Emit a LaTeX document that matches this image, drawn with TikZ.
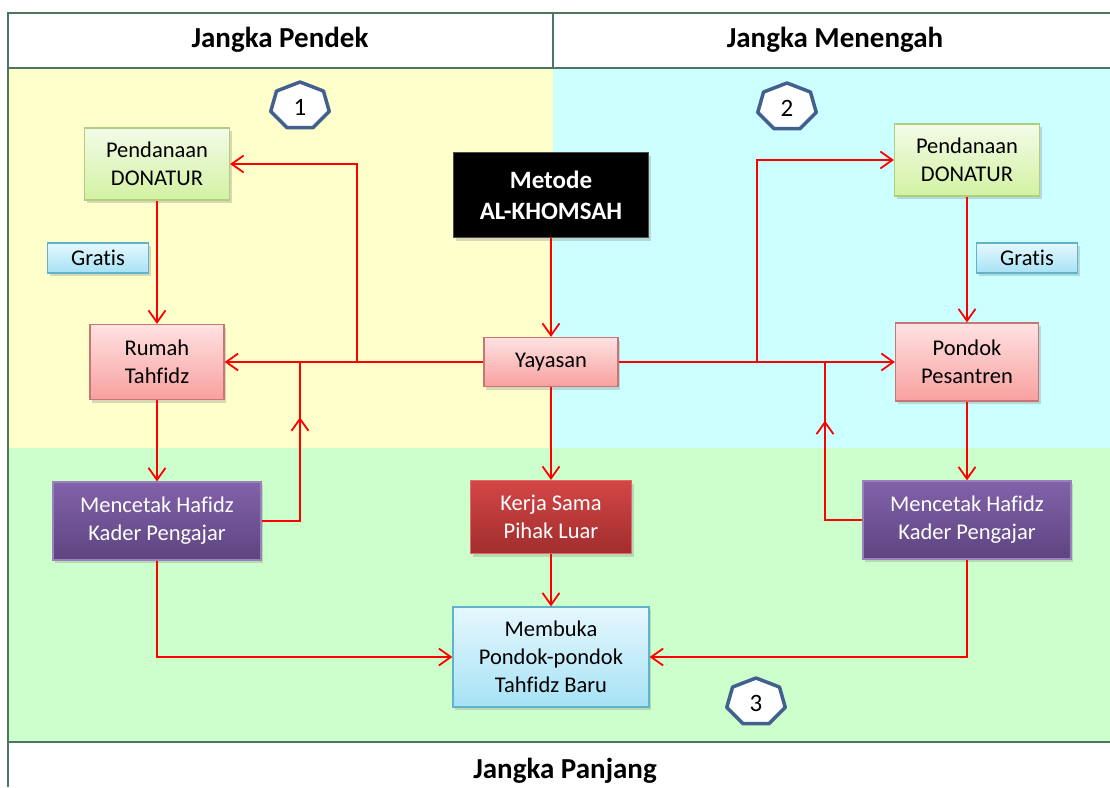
\documentclass[tikz,border=0pt]{standalone}
\usepackage{fontspec}
\setmainfont{Carlito}[Ligatures=CommonOff]
\usetikzlibrary{arrows.meta,shadows,decorations.markings}
\definecolor{shortbg}{HTML}{FFFFCC}
\definecolor{midbg}{HTML}{CCFFFF}
\definecolor{longbg}{HTML}{CCFFCC}
\definecolor{framecol}{HTML}{4E7560}
\definecolor{badgecol}{HTML}{41608E}
\definecolor{fundtop}{HTML}{F3FBE8}
\definecolor{fundbot}{HTML}{D3F2A2}
\definecolor{fundline}{HTML}{B0CF7E}
\definecolor{tagtop}{HTML}{E6F8FE}
\definecolor{tagbot}{HTML}{A6E2F5}
\definecolor{tagline}{HTML}{5FB3CB}
\definecolor{housetop}{HTML}{FFE2E2}
\definecolor{housebot}{HTML}{F8A09F}
\definecolor{houseline}{HTML}{C77674}
\definecolor{cadretop}{HTML}{8262AA}
\definecolor{cadrebot}{HTML}{5E4480}
\definecolor{partnertop}{HTML}{D44646}
\definecolor{partnerbot}{HTML}{A12D2D}
\tikzset{every node/.style={align=center, font=\fontsize{22.5}{28}\selectfont},
         up arrow/.style={decoration={markings, mark=at position #1 with {
    \arrow{Straight Barb[length=12pt,width=17pt]};}
  }, postaction={decorate}}
}
\tikzstyle{block} = [rectangle, draw, line width=1.2pt, inner sep=0pt,
    drop shadow={opacity=0.3, shadow xshift=2pt, shadow yshift=-3pt}]
\tikzstyle{fund} = [block, draw=fundline, top color=fundtop, bottom color=fundbot,
    minimum width=145pt, minimum height=72pt]
\tikzstyle{tag} = [block, draw=tagline, top color=tagtop, bottom color=tagbot,
    minimum width=101pt, minimum height=30pt]
\tikzstyle{house} = [block, draw=houseline, top color=housetop, bottom color=housebot,
    minimum width=134pt, minimum height=75pt]
\tikzstyle{cadre} = [block, draw=cadretop!80, top color=cadretop, bottom color=cadrebot,
    text=white, minimum width=208pt, minimum height=78pt]
\tikzstyle{partner} = [block, draw=partnertop!80, top color=partnertop, bottom color=partnerbot,
    text=white, minimum width=161pt, minimum height=73pt]
\tikzstyle{method} = [block, draw=black!70, fill=black, text=white,
    font=\fontsize{25}{31}\selectfont\bfseries, minimum width=195pt, minimum height=85pt]
\tikzstyle{opening} = [block, draw=tagline, top color=tagtop, bottom color=tagbot,
    minimum width=196pt, minimum height=100pt]
\tikzstyle{header} = [font=\fontsize{29}{34}\selectfont\bfseries]
\tikzstyle{frame} = [draw=framecol, line width=1.3pt]
\tikzstyle{badge} = [draw=badgecol, fill=white, line width=3.5pt, line join=round]
\tikzstyle{wire} = [draw, red, line width=1.8pt]
\tikzstyle{line} = [wire, -{Straight Barb[length=12pt,width=17pt]}]
\begin{document}
\begin{tikzpicture}[x=1pt, y=-1pt]
    \useasboundingbox (0,0) rectangle (1110,787);
    \fill [white] (0,0) rectangle (1110,787);
    \fill [shortbg] (8,68) rectangle (553,448);
    \fill [midbg] (553,68) rectangle (1110,448);
    \fill [longbg] (8,448) rectangle (1110,742);
    \draw [frame] (1110,13) -- (8,13) -- (8,787);
    \draw [frame] (8,68) -- (1110,68);
    \draw [frame] (553,13) -- (553,68);
    \draw [frame] (8,742) -- (1110,742);
    \node [header] (pendek) at (280,40) {Jangka Pendek};
    \node [header] (menengah) at (835,40) {Jangka Menengah};
    \node [header] (panjang) at (565,771) {Jangka Panjang};
    \foreach \cx/\cy/\num in {300/106/1, 787/107/2, 756/702/3} {
      \begin{scope}[shift={(\cx,\cy)}]
        \draw [badge] (270:30 and 24) \foreach \k in {1,...,6} {-- (270+\k*360/7:30 and 24)} -- cycle;
        \node [font=\fontsize{25}{30}\selectfont] (badge\num) at (0,1) {\num};
      \end{scope}
    }
    \node [house, minimum width=134pt, minimum height=49pt] (yayasan) at (551,362) {Yayasan};
    \node [method, above of=yayasan, node distance=167pt] (metode) {Metode\\AL-KHOMSAH};
    \node [house, left of=yayasan, node distance=394pt] (rumah) {Rumah\\Tahfidz};
    \node [house, right of=yayasan, node distance=416pt, minimum width=143pt, minimum height=78pt] (pondok) {Pondok\\Pesantren};
    \node [fund, above of=rumah, node distance=198pt] (danaL) {Pendanaan\\DONATUR};
    \node [fund, above of=pondok, node distance=202pt] (danaR) {Pendanaan\\DONATUR};
    \node [cadre, below of=rumah, node distance=159pt] (cetakL) {Mencetak Hafidz\\Kader Pengajar};
    \node [cadre, below of=pondok, node distance=158pt] (cetakR) {Mencetak Hafidz\\Kader Pengajar};
    \node [partner, below of=yayasan, node distance=155pt] (kerja) {Kerja Sama\\Pihak Luar};
    \node [opening, below of=kerja, node distance=140pt] (membuka) {Membuka\\Pondok-pondok\\Tahfidz Baru};
    \node [tag] (gratisL) at (98,258) {Gratis};
    \node [tag] (gratisR) at (1027,258) {Gratis};
    \coordinate (forkL) at (357,362);
    \coordinate (forkR) at (757,362);
    \coordinate (backL) at (300,362);
    \coordinate (backR) at (825,362);
    \path [line] (metode) -- (yayasan);
    \path [line] (yayasan) -- (rumah);
    \path [line] (yayasan) -- (pondok);
    \path [line] (yayasan) -- (kerja);
    \path [line] (kerja) -- (membuka);
    \path [line] (danaL) -- (rumah);
    \path [line] (rumah) -- (cetakL);
    \path [line] (danaR) -- (pondok);
    \path [line] (pondok) -- (cetakR);
    \path [line] (forkL) |- (danaL);
    \path [line] (forkR) |- (danaR);
    \path [line] (cetakL) |- (membuka);
    \path [line] (cetakR) |- (membuka);
    \path [wire, up arrow=0.72] (cetakL) -| (backL);
    \path [wire, up arrow=0.70] (cetakR) -| (backR);
\end{tikzpicture}
\end{document}
